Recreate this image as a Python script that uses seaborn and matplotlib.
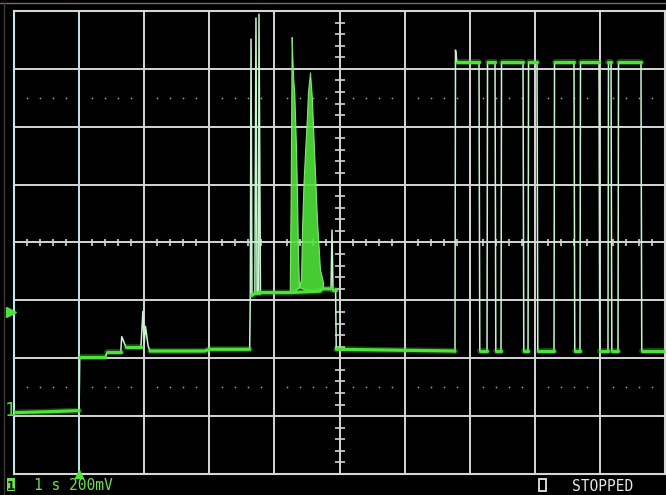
import numpy as np
import pandas as pd
import matplotlib
matplotlib.use("Agg")
import matplotlib.pyplot as plt
from matplotlib.patches import Rectangle
from matplotlib.lines import Line2D
import seaborn as sns

# ---- scope settings -------------------------------------------------------
SEC_PER_DIV = 1.0          # 1 s / div
MV_PER_DIV = 200.0         # 200 mV / div
GND_DIV = -2.94            # channel-1 ground marker, divisions from centre
TRIG_TIME_S = 1.0
TRIG_LEVEL_MV = 348.0

# ---- captured trace -------------------------------------------------------
# slow analogue part (time in s, level in mV above ground)
analog_t = [0.00, 0.50, 1.00, 1.01, 1.40, 1.43, 1.64, 1.655, 1.72, 1.95,
            1.98, 2.00, 2.02, 2.06, 2.09, 2.93, 3.00, 3.62,
            3.63, 3.641, 3.656, 3.70, 3.717, 3.733, 3.756, 3.763, 3.786,
            4.24, 4.70, 4.74, 4.87, 4.885, 4.90, 4.94, 4.95, 6.77]
analog_mv = [0, 3, 7, 191, 191, 208, 208, 263, 226, 226,
             350, 240, 298, 230, 213, 213, 219, 219,
             405, 1291, 405, 412, 1364, 412, 412, 1377, 415,
             415, 420, 428, 428, 631, 425, 425, 219, 213]

# dense oscillation burst: upper envelope and base level
burst_t = [4.235, 4.250, 4.265, 4.275, 4.290, 4.305, 4.330, 4.347, 4.362,
           4.378, 4.409, 4.424, 4.447, 4.470, 4.501, 4.516, 4.547, 4.575,
           4.610, 4.654, 4.700, 4.747]
burst_top_mv = [415, 760, 1298, 1230, 1150, 1110, 930, 760, 553,
                436, 460, 632, 795, 898, 1030, 1110, 1176, 1090,
                900, 667, 495, 450]
burst_base_mv = [415, 415, 415, 416, 418, 420, 424, 428, 430,
                 432, 432, 430, 428, 425, 422, 420, 420, 420,
                 420, 422, 425, 428]

# serial burst at the end: edge times (s) and logic levels (mV)
bit_rise_s = [6.774, 7.266, 7.481, 7.896, 8.295, 8.694, 9.124, 9.278]
bit_fall_s = [7.143, 7.389, 7.819, 8.034, 8.602, 8.986, 9.171, 9.631]
BIT_HIGH_MV = 1212
BIT_LOW_MV = 212
FIRST_OVERSHOOT_MV = 1253
END_TIME_S = 10.0

# ---- colours ---------------------------------------------------------------
TRACE_GREEN = "#4fe23a"
EDGE_PALE = "#c6f4cf"
GRID = "#d6d6d6"
TRIG_GRID = "#bfe6ee"
LABEL_GREEN = "#6ee04c"

# build the full vertex list of the trace
tt = list(analog_t)
vv = list(analog_mv)
for i, (r, f) in enumerate(zip(bit_rise_s, bit_fall_s)):
    tt.append(r); vv.append(BIT_LOW_MV)
    if i == 0:
        tt += [r + 0.008, r + 0.03]; vv += [FIRST_OVERSHOOT_MV, BIT_HIGH_MV]
    else:
        tt.append(r + 0.008); vv.append(BIT_HIGH_MV)
    tt.append(f); vv.append(BIT_HIGH_MV)
    tt.append(f + 0.012); vv.append(BIT_LOW_MV)
tt.append(END_TIME_S); vv.append(BIT_LOW_MV)
trace = pd.DataFrame({"t": tt, "mV": vv})

# split into flat runs (bright phosphor); steep edges stay pale
px_x = 65.1 / SEC_PER_DIV
px_y = 58.0 / MV_PER_DIV
seg_id, rows = 0, []
for i in range(len(tt) - 1):
    dx = abs(tt[i + 1] - tt[i]) * px_x
    dy = abs(vv[i + 1] - vv[i]) * px_y
    if dy <= 2.5 * max(dx, 1e-9):
        rows.append((seg_id, tt[i], vv[i]))
        rows.append((seg_id, tt[i + 1], vv[i + 1]))
    else:
        seg_id += 1
flat = pd.DataFrame(rows, columns=["seg", "t", "mV"])

# ---- figure ------------------------------------------------------------------
sns.set_theme(style="dark", rc={"axes.facecolor": "black",
                                "figure.facecolor": "black"})
plt.rcParams["font.family"] = ["DejaVu Sans Mono", "DejaVu Sans"]

W, H = 666, 495
fig = plt.figure(figsize=(W / 100, H / 100), dpi=100)
fig.patch.set_facecolor("black")
ax = fig.add_axes([14 / W, 21 / H, 651 / W, 463 / H])
ax.set_facecolor("black")

y_lo = (-4 - GND_DIV) * MV_PER_DIV
y_hi = (4 - GND_DIV) * MV_PER_DIV
ax.set_xlim(0, 10 * SEC_PER_DIV)
ax.set_ylim(y_lo, y_hi)

# graticule
grid_x = [k * SEC_PER_DIV for k in range(11)]
grid_y = [(k - GND_DIV) * MV_PER_DIV for k in range(-4, 5)]
for gx in grid_x[1:-1]:
    ax.axvline(gx, color=TRIG_GRID if gx == TRIG_TIME_S else GRID,
               lw=1.4, zorder=1)
for gy in grid_y[1:-1]:
    ax.axhline(gy, color=GRID, lw=1.4, zorder=1)
for name, s in ax.spines.items():
    s.set_color(TRIG_GRID if name == "left" else GRID)
    s.set_linewidth(1.5)
ax.set_xticks([]); ax.set_yticks([])

# centre cross minor ticks
ctr_mv = -GND_DIV * MV_PER_DIV
ctr_t = 5 * SEC_PER_DIV
minor_t = [k * 0.2 * SEC_PER_DIV for k in range(1, 50) if k % 5]
minor_v = [ctr_mv + j * 0.2 * MV_PER_DIV for j in range(-19, 20) if j % 5]
hx = 4 / px_y
ax.vlines(minor_t, ctr_mv - hx, ctr_mv + hx, color=GRID, lw=1.2, zorder=1)
hv = 5 / px_x
ax.hlines(minor_v, ctr_t - hv, ctr_t + hv, color=GRID, lw=1.2, zorder=1)

# dotted lines half a division inside top and bottom rows
for d in (2.5, -2.5):
    yv = (d - GND_DIV) * MV_PER_DIV
    ax.scatter(minor_t, [yv] * len(minor_t), s=1.6, color="#9c9c9c",
               linewidths=0, zorder=1)

# trace: pale thin pass for fast edges
sns.lineplot(data=trace, x="t", y="mV", sort=False, estimator=None,
             color=EDGE_PALE, lw=1.1, ax=ax, zorder=3, legend=False)
# burst body
ax.fill_between(burst_t, burst_base_mv, burst_top_mv, color=TRACE_GREEN,
                alpha=0.9, lw=0.8, edgecolor="#8ff07a", zorder=3)
# bright phosphor on flat runs
sns.lineplot(data=flat, x="t", y="mV", units="seg", sort=False,
             estimator=None, color=TRACE_GREEN, lw=4.4, alpha=0.3, ax=ax,
             zorder=4, legend=False)
sns.lineplot(data=flat, x="t", y="mV", units="seg", sort=False,
             estimator=None, color=TRACE_GREEN, lw=2.3, ax=ax, zorder=5,
             legend=False)
ax.set_xlabel(""); ax.set_ylabel("")

# trigger markers
ax.plot([-0.05], [TRIG_LEVEL_MV], marker=">", ms=7, color=TRACE_GREEN,
        clip_on=False, zorder=6, lw=0)
ax.plot([TRIG_TIME_S], [y_lo], marker="^", ms=6, color=TRACE_GREEN,
        clip_on=False, zorder=6, lw=0)

# channel ground marker
fig.text(10 / W, 1 - 416 / H, "1", color=TRACE_GREEN, fontsize=13.5,
         ha="center", va="baseline")

# screen frame edges
fig.add_artist(Line2D([0, 1], [1 - 3 / H] * 2, color="#6e6e6e", lw=1.0))
fig.add_artist(Line2D([4 / W] * 2, [0, 1 - 3 / H], color="#3a3a3a", lw=1.0))

# status line
fig.add_artist(Rectangle((7 / W, (H - 491) / H), 8 / W, 13 / H,
                         transform=fig.transFigure, color=LABEL_GREEN, lw=0))
fig.text(11 / W, 1 - 490 / H, "1", color="black", fontsize=9.5,
         ha="center", va="baseline", fontweight="bold")
fig.text(34 / W, 1 - 490 / H, "1 s 200mV", color=LABEL_GREEN,
         fontsize=10.5, ha="left", va="baseline")
fig.add_artist(Rectangle((539 / W, (H - 491) / H), 7 / W, 12 / H,
                         transform=fig.transFigure, fill=False,
                         ec="#e6e6e6", lw=1.3))
fig.text(572 / W, 1 - 491 / H, "STOPPED", color="#e6e6e6",
         fontsize=10.5, ha="left", va="baseline")

fig.savefig("out.png", dpi=100, facecolor="black")
